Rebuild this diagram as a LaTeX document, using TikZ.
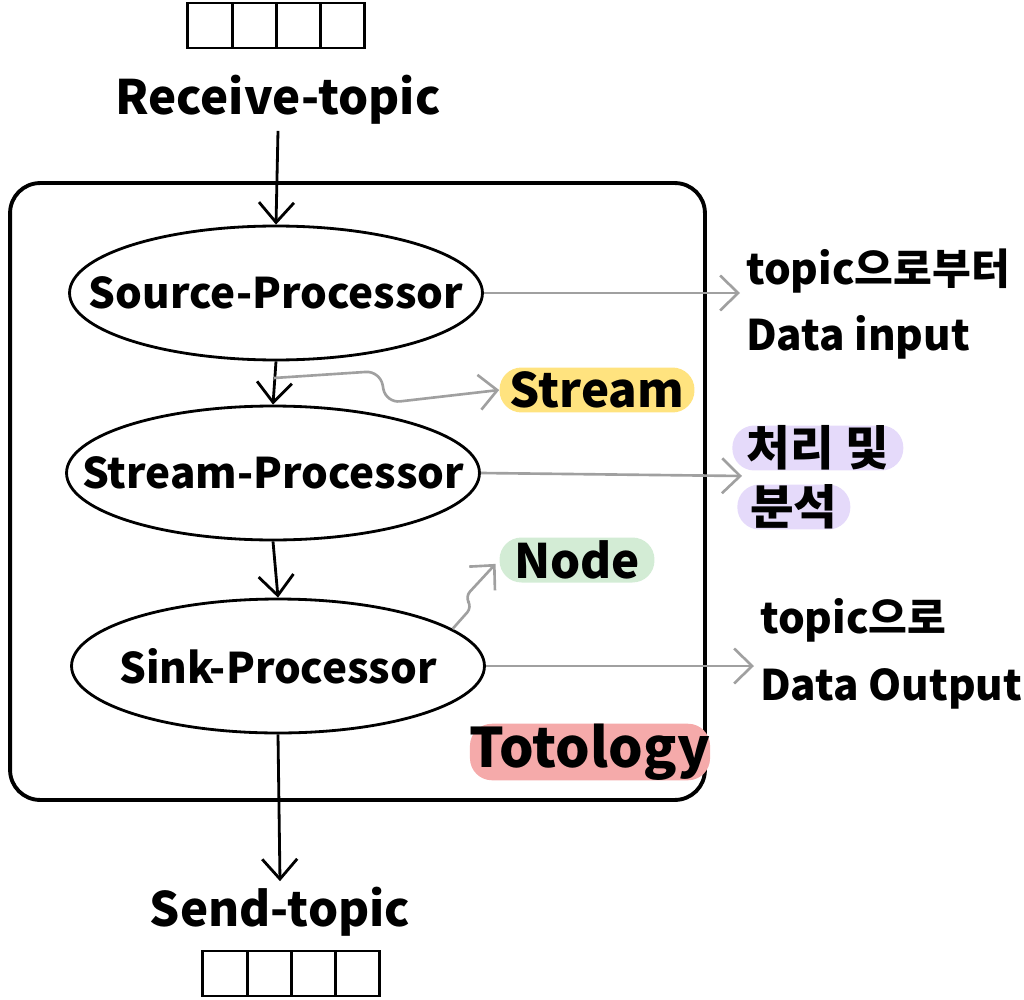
\documentclass[tikz,border=0pt]{standalone}
\usepackage{fontspec}
\setmainfont{Noto Sans CJK KR}
\usetikzlibrary{arrows.meta,shapes.geometric}
\definecolor{streamtag}{HTML}{FFE37F}
\definecolor{nodetag}{HTML}{D3ECD5}
\definecolor{anatag}{HTML}{E5DAFA}
\definecolor{topotag}{HTML}{F5AAAA}
\definecolor{linkgray}{HTML}{A0A0A0}
\tikzset{
  hand/.style={font=\fontsize{27}{40}\selectfont\bfseries},
  note/.style={font=\fontsize{24}{38}\selectfont\bfseries},
  cell/.style={draw,line width=1.6pt,minimum width=0.885cm,minimum height=0.9cm,inner sep=0pt},
  proc/.style={ellipse,draw,line width=1.6pt,minimum width=8.26cm,minimum height=2.68cm,
    font=\fontsize{24}{30}\selectfont\bfseries},
  flow/.style={-{Straight Barb[length=0.4cm,width=0.7cm,line width=1.6pt]},line width=1.6pt},
  link/.style={-{Straight Barb[length=0.36cm,width=0.7cm,line width=1.5pt]},line width=1.5pt,linkgray},
  tag/.style={hand,inner sep=0pt,rounded corners=0.44cm,minimum height=0.9cm}
}
\begin{document}
\begin{tikzpicture}[x=0.02cm,y=-0.02cm]
\useasboundingbox (0,0) rectangle (1024,1000);
% queues
\foreach \i in {0,...,3}
{
  \node[cell] (in\i) at (210+44.25*\i,25.5) {};
  \node[cell] (out\i) at (225+44.25*\i,973.5) {};
}
\node[hand] (rcv) at (278,100) {Receive-topic};
\node[hand] (snd) at (280,912) {Send-topic};
% topology box
\node[draw,line width=2.2pt,rounded corners=0.6cm,minimum width=13.9cm,minimum height=12.34cm] (topo) at (357.5,491.5) {};
\node[proc] (src) at (276,293) {\makebox[0pt]{Source-Processor}};
\node[proc] (str) at (273,473) {\makebox[0pt]{Stream-Processor}};
\node[proc] (snk) at (278,666) {\makebox[0pt]{Sink-Processor}};
% tags
\node[tag,fill=streamtag,minimum width=3.9cm] (strtag) at (597,390) {Stream};
\node[tag,fill=nodetag,minimum width=3.1cm] (ndtag) at (577,560) {Node};
\node[tag,fill=topotag,minimum width=4.6cm,font=\fontsize{31}{40}\selectfont\bfseries] (topotag) at (590,752) {Totology};
\node[tag,fill=anatag,minimum width=3.42cm,anchor=west] (ana1) at (732,448) {처리 및};
\node[tag,fill=anatag,minimum width=2.26cm,anchor=west] (ana2) at (737,507) {분석};
% side notes
\node[note,anchor=west,align=left] (inlbl) at (740,304) {topic으로부터\\Data input};
\node[note,anchor=west,align=left] (outlbl) at (754,654) {topic으로\\Data Output};
% connectors
\draw[flow] (rcv.south) -- (src.north);
\draw[flow] (src.south) -- (str.north);
\draw[flow] (str.south) -- (snk.north);
\draw[flow] (snk.south) -- (snd.north);
\coordinate (fork) at (274,378);
\coordinate (anatip) at (742,476);
\draw[link,rounded corners=8pt] (fork) -- (380,371) -- (386,403) -- (strtag.west);
\draw[link] (src.east) -- (inlbl.west |- src.east);
\draw[link] (str.east) -- (anatip);
\draw[link,rounded corners=4pt,shorten >=3pt] (snk.12) -- (472,607) -- (465,597) -- (ndtag.west);
\draw[link] (snk.east) -- (outlbl.west |- snk.east);
\end{tikzpicture}
\end{document}
